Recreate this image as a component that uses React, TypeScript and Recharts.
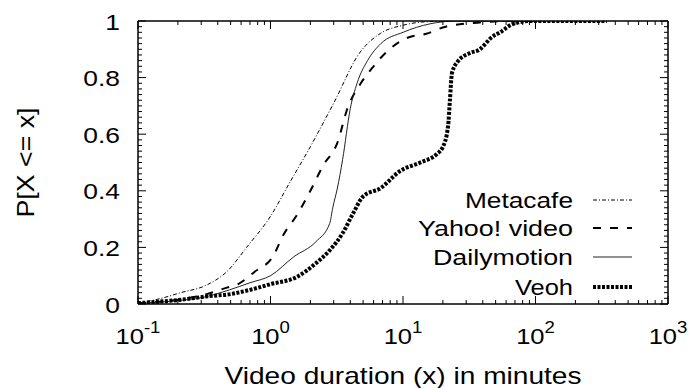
import React from 'react';
import { LineChart, Line, XAxis, YAxis, Legend, Label } from 'recharts';

const metacafe = [
  { x: 0.1, y: 0.003 }, { x: 0.15, y: 0.02 }, { x: 0.21, y: 0.04 }, { x: 0.33, y: 0.067 },
  { x: 0.47, y: 0.115 }, { x: 0.66, y: 0.2 }, { x: 1, y: 0.31 }, { x: 1.4, y: 0.43 },
  { x: 2, y: 0.556 }, { x: 3, y: 0.71 }, { x: 4.7, y: 0.887 }, { x: 6.8, y: 0.957 },
  { x: 10, y: 0.985 }, { x: 16, y: 0.998 }, { x: 30, y: 1 }, { x: 100, y: 1 },
];

const yahoo = [
  { x: 0.1, y: 0.002 }, { x: 0.2, y: 0.015 }, { x: 0.33, y: 0.035 }, { x: 0.47, y: 0.058 },
  { x: 0.55, y: 0.067 }, { x: 0.76, y: 0.114 }, { x: 1.05, y: 0.17 }, { x: 1.25, y: 0.244 },
  { x: 1.58, y: 0.314 }, { x: 2.0, y: 0.4 }, { x: 2.5, y: 0.49 }, { x: 3.2, y: 0.57 },
  { x: 3.8, y: 0.69 }, { x: 4.8, y: 0.78 }, { x: 6.0, y: 0.84 }, { x: 6.8, y: 0.87 },
  { x: 10.7, y: 0.94 }, { x: 15, y: 0.955 }, { x: 21, y: 0.98 }, { x: 38, y: 0.995 },
  { x: 60, y: 1 }, { x: 100, y: 1 },
];

const dailymotion = [
  { x: 0.1, y: 0.002 }, { x: 0.2, y: 0.012 }, { x: 0.3, y: 0.022 }, { x: 0.49, y: 0.05 },
  { x: 0.7, y: 0.075 }, { x: 1, y: 0.1 }, { x: 1.5, y: 0.167 }, { x: 2.2, y: 0.22 },
  { x: 2.8, y: 0.285 }, { x: 2.95, y: 0.34 }, { x: 3.2, y: 0.41 }, { x: 3.5, y: 0.51 },
  { x: 4, y: 0.69 }, { x: 4.5, y: 0.78 }, { x: 5.4, y: 0.86 }, { x: 6.8, y: 0.92 },
  { x: 10, y: 0.96 }, { x: 16, y: 0.99 }, { x: 25, y: 1 }, { x: 100, y: 1 },
];

const veoh = [
  { x: 0.1, y: 0.003 }, { x: 0.2, y: 0.014 }, { x: 0.35, y: 0.028 }, { x: 0.5, y: 0.035 },
  { x: 0.7, y: 0.05 }, { x: 1, y: 0.07 }, { x: 1.6, y: 0.097 }, { x: 2.2, y: 0.144 },
  { x: 2.8, y: 0.19 }, { x: 3.5, y: 0.25 }, { x: 4.2, y: 0.32 }, { x: 5.0, y: 0.38 },
  { x: 6.8, y: 0.41 }, { x: 9.5, y: 0.47 }, { x: 13.5, y: 0.5 }, { x: 18, y: 0.53 },
  { x: 20, y: 0.555 }, { x: 21.9, y: 0.63 }, { x: 22.6, y: 0.72 }, { x: 23.4, y: 0.815 },
  { x: 25.7, y: 0.855 }, { x: 32, y: 0.887 }, { x: 38, y: 0.9 }, { x: 42, y: 0.92 },
  { x: 46, y: 0.94 }, { x: 54, y: 0.96 }, { x: 68, y: 0.99 }, { x: 91, y: 1 }, { x: 345, y: 1 },
];

const xMajor = [0.1, 1, 10, 100, 1000];
const xExponents = ['-1', '0', '1', '2', '3'];
const xMinor = [
  0.2, 0.3, 0.4, 0.5, 0.6, 0.7, 0.8, 0.9,
  2, 3, 4, 5, 6, 7, 8, 9,
  20, 30, 40, 50, 60, 70, 80, 90,
  200, 300, 400, 500, 600, 700, 800, 900,
];
const yMajor = [0, 0.2, 0.4, 0.6, 0.8, 1];
const yLabels = ['0', '0.2', '0.4', '0.6', '0.8', '1'];
const yMinorStep = 0.02;

const seriesNames = ['Metacafe', 'Yahoo! video', 'Dailymotion', 'Veoh'];

const FONT = '"Liberation Sans", Arial, Helvetica, sans-serif';

const xTicks = [...xMajor, ...xMinor].sort((a, b) => a - b);
const yTicks: number[] = [];
yMajor.forEach((m, i) => {
  yTicks.push(m);
  if (i < yMajor.length - 1) {
    for (let k = 1; k < 10; k++) yTicks.push(Math.round((m + k * yMinorStep) * 1000) / 1000);
  }
});

const majorIndexX = (v: number) => xMajor.findIndex((m) => Math.abs(v / m - 1) < 1e-6);
const majorIndexY = (v: number) => yMajor.findIndex((m) => Math.abs(v - m) < 1e-6);

const MAJOR = 8;
const MINOR = 4;

const BottomTick = (props: any) => {
  const { x, y, payload } = props;
  const idx = majorIndexX(payload.value);
  const len = idx >= 0 ? MAJOR : MINOR;
  return (
    <g>
      <line x1={x} y1={y} x2={x} y2={y - len} stroke="#000" strokeWidth={1} />
      {idx >= 0 && (
        <g transform={`translate(${x},${y + 40}) scale(1.16,1)`}>
          <text x={0} y={0} textAnchor="middle" fontFamily={FONT} fontSize={22} fill="#000">
            <tspan>10</tspan>
            <tspan dy={-11} fontSize={16}>{xExponents[idx]}</tspan>
          </text>
        </g>
      )}
    </g>
  );
};

const TopTick = (props: any) => {
  const { x, y, payload } = props;
  const idx = majorIndexX(payload.value);
  const len = idx >= 0 ? MAJOR : MINOR;
  return <line x1={x} y1={y} x2={x} y2={y + len} stroke="#000" strokeWidth={1} />;
};

const LeftTick = (props: any) => {
  const { x, y, payload } = props;
  const idx = majorIndexY(payload.value);
  const len = idx >= 0 ? MAJOR : MINOR;
  return (
    <g>
      <line x1={x} y1={y} x2={x + len} y2={y} stroke="#000" strokeWidth={1} />
      {idx >= 0 && (
        <g transform={`translate(${x - 18},${y + 8.5}) scale(1.2,1)`}>
          <text x={0} y={0} textAnchor="end" fontFamily={FONT} fontSize={22} fill="#000">
            {yLabels[idx]}
          </text>
        </g>
      )}
    </g>
  );
};

const RightTick = (props: any) => {
  const { x, y, payload } = props;
  const idx = majorIndexY(payload.value);
  const len = idx >= 0 ? MAJOR : MINOR;
  return <line x1={x} y1={y} x2={x - len} y2={y} stroke="#000" strokeWidth={1} />;
};

const styles = [
  { stroke: '#000', strokeWidth: 1, dash: '4 2 1 2' },
  { stroke: '#000', strokeWidth: 2, dash: '8 9' },
  { stroke: '#222', strokeWidth: 1, dash: undefined as string | undefined },
  { stroke: '#000', strokeWidth: 4, dash: '3 1.5' },
];

const legendWidths = [108, 155, 140, 58];
const legendRows = [20, 48, 77, 107];

const LegendContent = () => (
  <svg width={260} height={120} style={{ display: 'block' }}>
    {seriesNames.map((name, i) => (
      <g key={name}>
        <text
          x={183}
          y={legendRows[i] + 8}
          textAnchor="end"
          fontFamily={FONT}
          fontSize={22}
          textLength={legendWidths[i]}
          lengthAdjust="spacingAndGlyphs"
          fill="#000"
        >
          {name}
        </text>
        <line
          x1={203}
          x2={242}
          y1={legendRows[i]}
          y2={legendRows[i]}
          stroke={styles[i].stroke}
          strokeWidth={styles[i].strokeWidth}
          strokeDasharray={styles[i].dash}
        />
      </g>
    ))}
  </svg>
);

const XLabel = (props: any) => {
  const vb = props.viewBox || { x: 138, y: 304, width: 530, height: 0 };
  return (
    <text
      x={vb.x + vb.width / 2}
      y={304 + 80}
      textAnchor="middle"
      fontFamily={FONT}
      fontSize={24}
      textLength={357}
      lengthAdjust="spacingAndGlyphs"
      fill="#000"
    >
      Video duration (x) in minutes
    </text>
  );
};

const YLabel = (props: any) => {
  const vb = props.viewBox || { x: 138, y: 21, width: 0, height: 283 };
  const cy = vb.y + vb.height / 2;
  return (
    <text
      transform={`translate(34,${cy}) rotate(-90)`}
      x={0}
      y={0}
      textAnchor="middle"
      fontFamily={FONT}
      fontSize={24}
      textLength={110}
      lengthAdjust="spacingAndGlyphs"
      fill="#000"
    >
      P[X &lt;= x]
    </text>
  );
};

const axisLine = { stroke: '#000', strokeWidth: 1.5 };

export default function App() {
  const series = [metacafe, yahoo, dailymotion, veoh];
  return (
    <div style={{ position: 'absolute', left: 0, top: 0, width: 690, height: 388, background: '#fff' }}>
      <LineChart width={690} height={388} margin={{ top: 20, right: 21, bottom: 83, left: 137 }}>
        <XAxis
          xAxisId="b"
          dataKey="x"
          type="number"
          scale="log"
          domain={[0.1, 1000]}
          allowDataOverflow
          ticks={xTicks}
          interval={0}
          tick={<BottomTick />}
          tickLine={false}
          tickSize={0}
          tickMargin={0}
          height={1}
          axisLine={axisLine}
        >
          <Label content={<XLabel />} />
        </XAxis>
        <XAxis
          xAxisId="t"
          orientation="top"
          dataKey="x"
          type="number"
          scale="log"
          domain={[0.1, 1000]}
          allowDataOverflow
          ticks={xTicks}
          interval={0}
          tick={<TopTick />}
          tickLine={false}
          tickSize={0}
          tickMargin={0}
          height={1}
          axisLine={axisLine}
        />
        <YAxis
          yAxisId="l"
          type="number"
          domain={[0, 1]}
          allowDataOverflow
          ticks={yTicks}
          interval={0}
          tick={<LeftTick />}
          tickLine={false}
          tickSize={0}
          tickMargin={0}
          width={1}
          axisLine={axisLine}
        >
          <Label content={<YLabel />} />
        </YAxis>
        <YAxis
          yAxisId="r"
          orientation="right"
          type="number"
          domain={[0, 1]}
          allowDataOverflow
          ticks={yTicks}
          interval={0}
          tick={<RightTick />}
          tickLine={false}
          tickSize={0}
          tickMargin={0}
          width={1}
          axisLine={axisLine}
        />
        {series.map((d, i) => (
          <Line
            key={seriesNames[i]}
            xAxisId="b"
            yAxisId="l"
            data={d}
            dataKey="y"
            name={seriesNames[i]}
            type="monotone"
            dot={false}
            activeDot={false}
            stroke={styles[i].stroke}
            strokeWidth={styles[i].strokeWidth}
            strokeDasharray={styles[i].dash}
            isAnimationActive={false}
          />
        ))}
        <Legend
          layout="horizontal"
          verticalAlign="middle"
          align="center"
          content={<LegendContent />}
          wrapperStyle={{ position: 'absolute', left: 390, top: 180, width: 260, height: 120 }}
        />
      </LineChart>
    </div>
  );
}
